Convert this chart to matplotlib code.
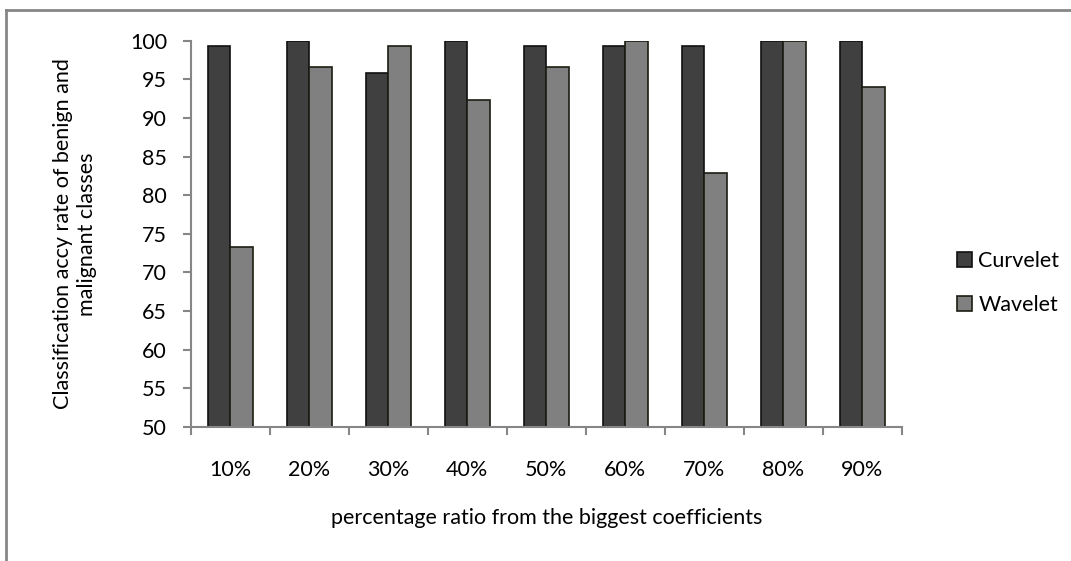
import numpy as np
import matplotlib.pyplot as plt
from matplotlib.lines import Line2D

plt.rcParams['font.family'] = ['Lato', 'DejaVu Sans']

categories = ['10%', '20%', '30%', '40%', '50%', '60%', '70%', '80%', '90%']
curvelet = [99.3, 100, 95.8, 100, 99.3, 99.3, 99.3, 100, 100]
wavelet = [73.3, 96.6, 99.3, 92.3, 96.6, 100, 82.9, 100, 94.0]

fig = plt.figure(figsize=(10.71, 5.61), dpi=100)
ax = fig.add_axes([0.178, 0.239, 0.664, 0.6885])

x = np.arange(len(categories))
w = 0.285
ax.bar(x - w/2, curvelet, w, bottom=0, color='#404040', edgecolor='#111111',
       linewidth=1.2, label='Curvelet')
ax.bar(x + w/2, wavelet, w, bottom=0, color='#808080', edgecolor='#1c1c12',
       linewidth=1.2, label='Wavelet')

ax.set_xlim(-0.5, len(categories) - 0.5)
ax.set_ylim(50, 100)
ax.set_yticks(np.arange(50, 101, 5))
ax.set_xticks(x)
ax.set_xticklabels(categories)
ax.set_xticks(np.arange(len(categories) + 1) - 0.5, minor=True)
ax.tick_params(axis='x', which='major', length=0, pad=24, labelsize=15.5)
ax.tick_params(axis='x', which='minor', length=6, color='#868686', width=1.5)
ax.tick_params(axis='y', length=6, color='#868686', width=1.5, pad=11, labelsize=15.5)

for side in ['top', 'right']:
    ax.spines[side].set_visible(False)
for side in ['left', 'bottom']:
    ax.spines[side].set_color('#868686')
    ax.spines[side].set_linewidth(1.5)

ax.set_ylabel('Classification accy rate of benign and\nmalignant classes',
              fontsize=15.5, labelpad=24, linespacing=1.25)
ax.set_xlabel('percentage ratio from the biggest coefficients',
              fontsize=15.5, labelpad=20)

ax.legend(loc='center left', bbox_to_anchor=(1.05, 0.373), frameon=False,
          fontsize=15.5, handlelength=0.7, handleheight=0.7,
          handletextpad=0.3, labelspacing=1.1)

# outer chart frame
fig.add_artist(Line2D([0.0055, 1.0], [0.983, 0.983], color='#868686', lw=2))
fig.add_artist(Line2D([0.0055, 0.0055], [0.0, 0.983], color='#868686', lw=2))

fig.savefig('out.png', dpi=100)
